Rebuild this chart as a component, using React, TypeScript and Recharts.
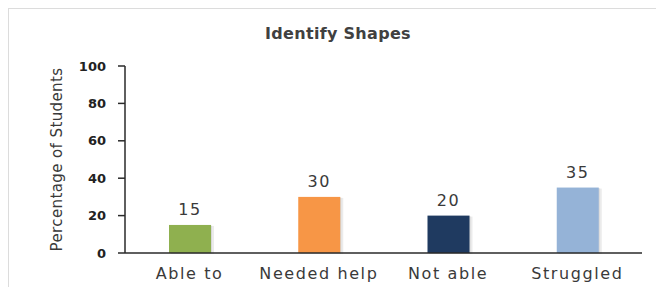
import { BarChart, Bar, XAxis, YAxis, Cell, LabelList } from 'recharts';

const categories = ['Able to', 'Needed help', 'Not able', 'Struggled'];
const percentages = [15, 30, 20, 35];
const barColors = ['#8FB04F', '#F79646', '#1F3A60', '#95B3D7'];
const yTicks = [0, 20, 40, 60, 80, 100];

const data = categories.map((name, i) => ({ name, value: percentages[i] }));

const font = '"DejaVu Sans", sans-serif';

// excel-ish bar with a soft drop shadow
function ShadowBar(props: any) {
  const { x, y, width, height, fill } = props;
  if (!height || height <= 0) return null;
  return (
    <g>
      <rect x={x + 2} y={y + 1} width={width + 1} height={height} fill="#000" fillOpacity={0.08} />
      <rect x={x + 1} y={y + 0.5} width={width} height={height} fill="#000" fillOpacity={0.08} />
      <rect x={x} y={y} width={width} height={height} fill={fill} />
    </g>
  );
}

export default function App() {
  return (
    <div
      style={{
        position: 'relative',
        width: 648,
        height: 279,
        borderTop: '1px solid #dcdcdc',
        borderLeft: '1px solid #dcdcdc',
        boxSizing: 'border-box',
        background: '#fff',
        fontFamily: font,
      }}
    >
      <div
        style={{
          position: 'absolute',
          top: 15,
          left: 229,
          width: 200,
          textAlign: 'center',
          fontSize: 16,
          fontWeight: 700,
          letterSpacing: 0.3,
          color: '#404040',
        }}
      >
        Identify Shapes
      </div>
      <BarChart
        width={647}
        height={278}
        data={data}
        margin={{ top: 57, right: 14, bottom: 4, left: 0 }}
      >
        <XAxis
          dataKey="name"
          tickLine={false}
          axisLine={{ stroke: '#2a2a2a', strokeWidth: 1.5 }}
          tick={{ fill: '#3a3a3a', fontSize: 16, fontFamily: font, letterSpacing: 1.6 }}
          tickMargin={9}
        />
        <YAxis
          width={116}
          domain={[0, 100]}
          ticks={yTicks}
          interval={0}
          axisLine={{ stroke: '#2a2a2a', strokeWidth: 1.5 }}
          tickLine={{ stroke: '#2a2a2a', strokeWidth: 1.5 }}
          tickSize={7}
          tickMargin={12}
          tick={{ fill: '#222', fontSize: 13, fontWeight: 700, fontFamily: font }}
          label={{
            value: 'Percentage of Students',
            angle: -90,
            position: 'insideLeft',
            dx: 43,
            style: { textAnchor: 'middle', fill: '#3a3a3a', fontSize: 15, fontFamily: font, letterSpacing: 0.4 },
          }}
        />
        <Bar dataKey="value" isAnimationActive={false} barSize={42} shape={ShadowBar}>
          {data.map((d, i) => (
            <Cell key={d.name} fill={barColors[i]} />
          ))}
          <LabelList
            dataKey="value"
            position="top"
            offset={10}
            style={{ fill: '#3a3a3a', fontSize: 16, fontFamily: font, letterSpacing: 1.5 }}
          />
        </Bar>
      </BarChart>
    </div>
  );
}
